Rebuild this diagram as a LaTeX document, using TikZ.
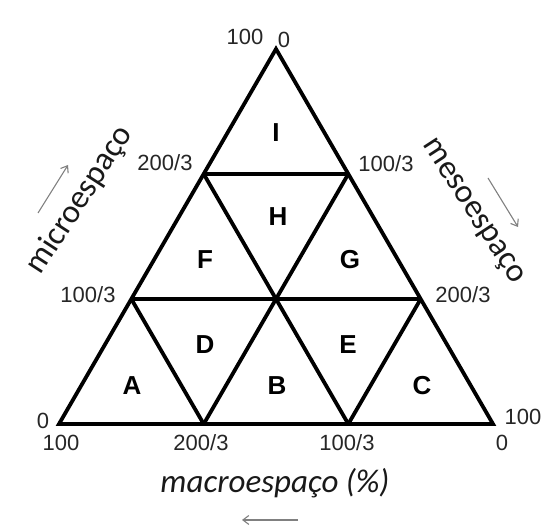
\documentclass[tikz,border=0pt]{standalone}
\usepackage{fontspec}
\setmainfont{Liberation Sans}
\newfontfamily\calfont{Carlito}
\usetikzlibrary{arrows.meta}
\begin{document}
\begin{tikzpicture}[x=1pt,y=-1pt,
  edge/.style={line width=3.8pt,line join=miter},
  num/.style={inner sep=0pt,font=\fontsize{22}{22}\selectfont,text=black!85},
  reg/.style={inner sep=0pt,font=\fontsize{26}{26}\selectfont\bfseries},
  axis/.style={inner sep=0pt,font=\fontsize{33}{33}\selectfont\calfont,text=black!90},
  hint/.style={draw=black!50,line width=1.1pt,-{Straight Barb[length=6pt,width=9pt]}}]
\useasboundingbox (0,0) rectangle (558,526);
% vertices and grid points
\coordinate (T) at (276,49);
\coordinate (BL) at (59,424);
\coordinate (BR) at (493,424);
\coordinate (L1) at (131.3,299);
\coordinate (L2) at (203.7,174);
\coordinate (R2) at (348.3,174);
\coordinate (R1) at (420.7,299);
\coordinate (B1) at (203.7,424);
\coordinate (B2) at (348.3,424);
% lines
\draw[edge] (T) -- (BR) -- (BL) -- cycle;
\draw[edge] (L1) -- (R1);
\draw[edge] (L2) -- (R2);
\draw[edge] (L2) -- (B2);
\draw[edge] (R2) -- (B1);
\draw[edge] (L1) -- (B1);
\draw[edge] (R1) -- (B2);
% region letters
\node[reg] (rI) at (276,133) {I};
\node[reg] (rH) at (278,217) {H};
\node[reg] (rF) at (205,260) {F};
\node[reg] (rG) at (350,260) {G};
\node[reg] (rD) at (205,345) {D};
\node[reg] (rE) at (348,345) {E};
\node[reg] (rA) at (132,386) {A};
\node[reg] (rB) at (277,386) {B};
\node[reg] (rC) at (422,386) {C};
% tick numbers
\node[num] (nTa) at (245,37) {100};
\node[num] (nTb) at (284,40) {0};
\node[num] (nL2) at (165,163) {200/3};
\node[num] (nL1) at (88,295) {100/3};
\node[num] (nR2) at (386,164) {100/3};
\node[num] (nR1) at (463,295) {200/3};
\node[num] (nBLa) at (43,421) {0};
\node[num] (nBLb) at (61,443) {100};
\node[num] (nB1) at (201,443) {200/3};
\node[num] (nB2) at (347,443) {100/3};
\node[num] (nBRa) at (523,417) {100};
\node[num] (nBRb) at (502,443) {0};
% axis titles
\node[axis,rotate=57] (micro) at (80,200) {microespaço};
\node[axis,rotate=-57] (meso) at (472,212) {mesoespaço};
\node[axis] (macro) at (275,483) {\itshape macroespaço (\%)};
% direction arrows
\coordinate (ma1) at (38,213); \coordinate (ma2) at (68,165);
\coordinate (me1) at (488,178); \coordinate (me2) at (518,227);
\coordinate (mc1) at (298,520); \coordinate (mc2) at (242,520);
\draw[hint] (ma1) -- (ma2);
\draw[hint] (me1) -- (me2);
\draw[hint] (mc1) -- (mc2);
\end{tikzpicture}
\end{document}
